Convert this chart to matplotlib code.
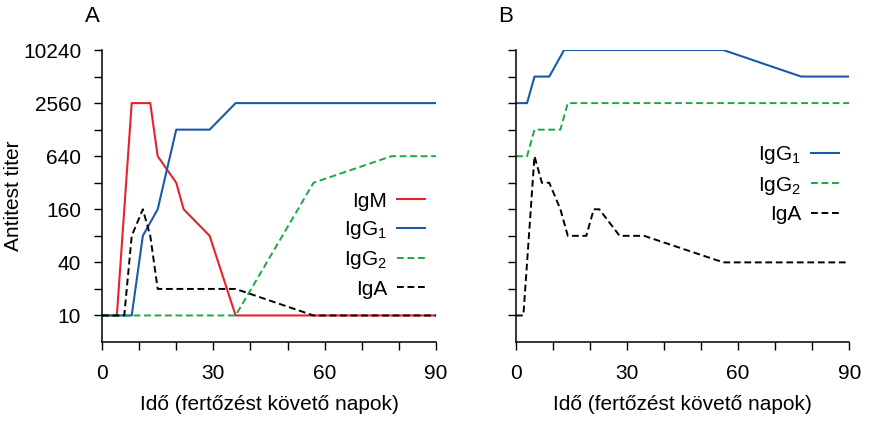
import matplotlib
matplotlib.use("Agg")
import matplotlib.pyplot as plt

plt.rcParams['font.family'] = ['Liberation Sans', 'DejaVu Sans']
plt.rcParams['mathtext.fontset'] = 'custom'
plt.rcParams['mathtext.rm'] = 'Liberation Sans'
plt.rcParams['mathtext.it'] = 'Liberation Sans'
plt.rcParams['mathtext.default'] = 'regular'

# panel A data (days, titer)
a_igm_x = [0, 4, 8, 13, 15, 20, 22, 29, 36, 90]
a_igm_y = [10, 10, 2560, 2560, 640, 320, 160, 80, 10, 10]
a_igg1_x = [0, 8, 11, 15, 20, 29, 36, 90]
a_igg1_y = [10, 10, 80, 160, 1280, 1280, 2560, 2560]
a_igg2_x = [0, 36, 57, 78, 90]
a_igg2_y = [10, 10, 320, 640, 640]
a_iga_x = [0, 6, 8, 11, 13, 15, 36, 57, 90]
a_iga_y = [10, 10, 80, 160, 80, 20, 20, 10, 10]

# panel B data
b_igg1_x = [0, 3, 5, 9, 13, 56, 77, 90]
b_igg1_y = [2560, 2560, 5120, 5120, 10240, 10240, 5120, 5120]
b_igg2_x = [0, 3, 5, 12, 14, 90]
b_igg2_y = [640, 640, 1280, 1280, 2560, 2560]
b_iga_x = [0, 2, 5, 7, 9, 12, 14, 19, 21, 22.5, 28, 34.6, 56, 90]
b_iga_y = [10, 10, 640, 320, 320, 160, 80, 80, 160, 160, 80, 80, 40, 40]

yticks = [10, 20, 40, 80, 160, 320, 640, 1280, 2560, 5120, 10240]
ylabels = ['10', '', '40', '', '160', '', '640', '', '2560', '', '10240']
xticks = list(range(0, 91, 10))
xlabels = ['0', '', '', '30', '', '', '60', '', '', '90']

red = '#e8222c'
blue = '#1a5aa8'
green = '#1aa84a'
dash = (0, (3.5, 1.9))
fs = 15

fig = plt.figure(figsize=(8.72, 4.21), dpi=100)
axA = fig.add_axes([0.117, 0.1876, 0.383, 0.6936])
axB = fig.add_axes([0.5917, 0.1876, 0.3822, 0.6936])

axA.plot(a_igm_x, a_igm_y, color=red, lw=1.5, label='IgM')
axA.plot(a_igg1_x, a_igg1_y, color=blue, lw=1.5, label='IgG$_1$')
axA.plot(a_igg2_x, a_igg2_y, color=green, lw=1.4, ls=dash, label='IgG$_2$')
axA.plot(a_iga_x, a_iga_y, color='black', lw=1.4, ls=dash, label='IgA')

axB.plot(b_igg1_x, b_igg1_y, color=blue, lw=1.5, label='IgG$_1$')
axB.plot(b_igg2_x, b_igg2_y, color=green, lw=1.4, ls=dash, label='IgG$_2$')
axB.plot(b_iga_x, b_iga_y, color='black', lw=1.4, ls=dash, label='IgA')

for ax in (axA, axB):
    ax.set_yscale('log', base=2)
    ax.set_ylim(5, 10240)
    ax.set_xlim(0, 90)
    ax.set_yticks(yticks)
    ax.minorticks_off()
    ax.set_xticks(xticks)
    ax.set_xticklabels(xlabels)
    ax.spines['top'].set_visible(False)
    ax.spines['right'].set_visible(False)
    ax.spines['left'].set_linewidth(1.1)
    ax.spines['bottom'].set_linewidth(1.1)
    ax.tick_params(direction='out', length=6, width=1.0, labelsize=fs)
    ax.tick_params(axis='x', pad=10)
    ax.tick_params(axis='y', pad=9)
    ax.set_xlabel('Idő (fertőzést követő napok)', fontsize=fs)
    ax.xaxis.set_label_coords(0.5, -0.18)

axA.set_yticklabels(ylabels)
axB.set_yticklabels([''] * len(yticks))
axA.set_ylabel('Antitest titer', fontsize=fs)
axA.yaxis.set_label_coords(-0.236, 0.5)

fig.text(0.0975, 0.96, 'A', fontsize=16, va='center', ha='left')
fig.text(0.571, 0.96, 'B', fontsize=16, va='center', ha='left')

legA = axA.legend(loc='center right', bbox_to_anchor=(0.967, 0.332), frameon=False,
                  markerfirst=False, fontsize=fs, handlelength=1.35,
                  handletextpad=0.47, labelspacing=0.4, borderpad=0, borderaxespad=0)
legB = axB.legend(loc='center right', bbox_to_anchor=(0.969, 0.541), frameon=False,
                  markerfirst=False, fontsize=fs, handlelength=1.35,
                  handletextpad=0.47, labelspacing=0.4, borderpad=0, borderaxespad=0)

fig.savefig('out.png', dpi=100)
